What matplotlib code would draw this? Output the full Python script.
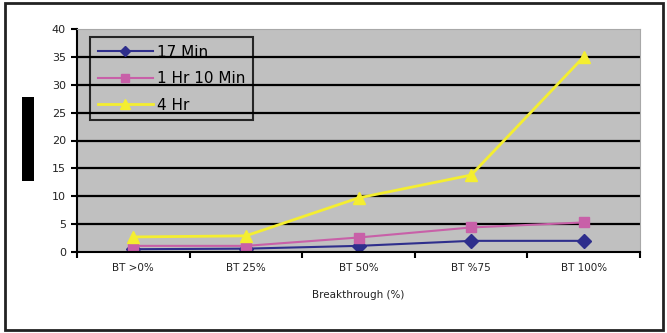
import numpy as np
import matplotlib.pyplot as plt
from matplotlib.patches import Rectangle
from matplotlib.ticker import FixedLocator

categories = ['BT >0%', 'BT 25%', 'BT 50%', 'BT %75', 'BT 100%']
min17 = [0.5, 0.6, 1.1, 2.0, 2.0]
hr1_min10 = [1.1, 1.1, 2.6, 4.4, 5.3]
hr4 = [2.7, 2.9, 9.7, 13.8, 35.0]

fig = plt.figure(figsize=(6.67, 3.33), dpi=100)
fig.patch.set_facecolor('white')
W, H = 667, 333

# outer frame
fig.patches.append(Rectangle((5 / W, 3 / H), 658 / W, 327 / H, transform=fig.transFigure,
                             fill=False, edgecolor='#222222', linewidth=2))
# blacked-out y label
fig.patches.append(Rectangle((22 / W, 1 - 181 / H), 12 / W, 84 / H, transform=fig.transFigure,
                             facecolor='black', edgecolor='none'))

ax = fig.add_axes([77 / W, 1 - 252 / H, 563 / W, 223 / H])
ax.set_facecolor('#c0c0c0')

x = np.arange(len(categories))
ax.plot(x, min17, color='#2e2e8c', marker='D', markersize=7, linewidth=1.5, label='17 Min')
ax.plot(x, hr1_min10, color='#c860a8', marker='s', markersize=7, linewidth=1.5, label='1 Hr 10 Min')
ax.plot(x, hr4, color='#f4ee30', marker='^', markersize=9, linewidth=2, label='4 Hr')

ax.set_xlim(-0.5, len(categories) - 0.5)
ax.set_ylim(0, 40)
ax.set_yticks(np.arange(0, 41, 5))
for yv in range(5, 40, 5):
    ax.axhline(yv, color='black', linewidth=1.6, zorder=0.5)

ax.set_xticks(x)
ax.set_xticklabels(categories, fontsize=7.5, color='#222222')
ax.tick_params(axis='x', which='major', length=0, pad=8)
ax.xaxis.set_minor_locator(FixedLocator(np.arange(-0.5, len(categories), 1)))
ax.tick_params(axis='x', which='minor', length=4, width=1.5, direction='out')
ax.tick_params(axis='y', labelsize=8, length=4, width=1.5, direction='out', pad=4, labelcolor='#222222')

ax.spines['left'].set_linewidth(1.5)
ax.spines['bottom'].set_linewidth(1.5)
ax.spines['top'].set_color('#a8a8a8')
ax.spines['right'].set_color('#a8a8a8')

ax.set_xlabel('Breakthrough (%)', fontsize=7.5, labelpad=12, color='#222222')

leg = ax.legend(loc='upper left', bbox_to_anchor=(13 / 563, 1 - 8 / 223), fontsize=11,
                frameon=True, fancybox=False, handlelength=3.6, borderpad=0.5,
                labelspacing=0.75, handletextpad=0.3, borderaxespad=0, markerscale=0.8)
leg.get_frame().set_edgecolor('black')
leg.get_frame().set_linewidth(1.5)
leg.get_frame().set_facecolor('none')

fig.savefig('out.png', dpi=100)
